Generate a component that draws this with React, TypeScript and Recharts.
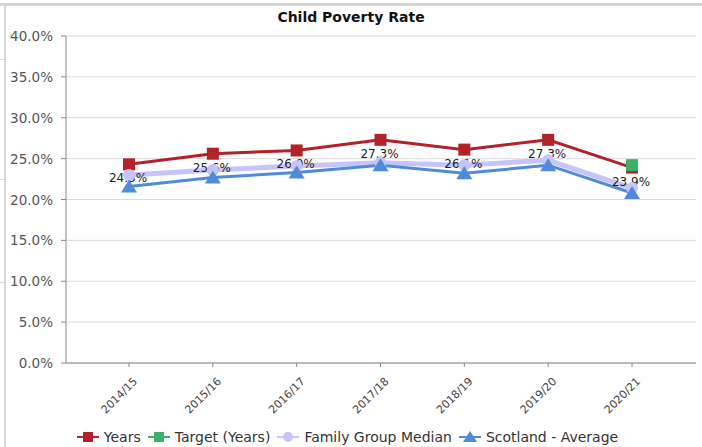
import React from 'react';
import { LineChart, Line, XAxis, YAxis, CartesianGrid } from 'recharts';

const categories = ['2014/15', '2015/16', '2016/17', '2017/18', '2018/19', '2019/20', '2020/21'];
const yearsValues = [24.3, 25.6, 26.0, 27.3, 26.1, 27.3, 23.9];
const targetValues: (number | null)[] = [null, null, null, null, null, null, 24.2];
const familyMedian = [23.0, 23.6, 24.1, 24.5, 24.2, 24.8, 21.4];
const scotlandAvg = [21.6, 22.7, 23.3, 24.2, 23.2, 24.2, 20.8];
const yTicks = [0, 5, 10, 15, 20, 25, 30, 35, 40];

const data = categories.map((c, i) => ({
  cat: c,
  years: yearsValues[i],
  target: targetValues[i],
  family: familyMedian[i],
  scotland: scotlandAvg[i],
}));

const FONT = '"DejaVu Sans", Verdana, sans-serif';
const RED = '#b3222a';
const GREEN = '#3cb06a';
const LAV = '#c5c5fb';
const BLUE = '#4f8bd9';

const YearsDot = (props: any) => {
  const { cx, cy, index, value } = props;
  if (cx == null || cy == null || value == null) return <g key={index} />;
  const v = Array.isArray(value) ? value[1] : value;
  return (
    <g key={index}>
      <rect x={cx - 6} y={cy - 6} width={12} height={12} fill={RED} />
      <text x={cx - 1} y={cy + 18} textAnchor="middle" fontSize={12} fill="#222" fontFamily={FONT}>
        {`${Number(v).toFixed(1)}%`}
      </text>
    </g>
  );
};
const TargetDot = (props: any) => {
  const { cx, cy, index, value } = props;
  if (cx == null || cy == null || value == null) return <g key={index} />;
  return <rect key={index} x={cx - 6} y={cy - 6} width={12} height={12} fill={GREEN} />;
};
const Circle = (props: any) => {
  const { cx, cy, index } = props;
  if (cx == null || cy == null) return <g key={index} />;
  return <circle key={index} cx={cx} cy={cy} r={6} fill={LAV} />;
};
const Tri = (props: any) => {
  const { cx, cy, index } = props;
  if (cx == null || cy == null) return <g key={index} />;
  return <polygon key={index} points={`${cx},${cy - 7} ${cx + 8},${cy + 6} ${cx - 8},${cy + 6}`} fill={BLUE} />;
};

const XTick = (props: any) => {
  const { x, y, payload } = props;
  return (
    <g transform={`translate(${x + 9},${y + 13})`}>
      <text x={0} y={0} textAnchor="end" transform="rotate(-45)" fontSize={11} fill="#444" fontFamily={FONT}>
        {payload.value}
      </text>
    </g>
  );
};

const YTick = (props: any) => {
  const { x, y, payload } = props;
  return (
    <text x={x - 6} y={y} dy={5} textAnchor="end" fontSize={13.5} fill="#555" fontFamily={FONT}>
      {`${Number(payload.value).toFixed(1)}%`}
    </text>
  );
};

const LegendIcon = ({ color, shape }: { color: string; shape: string }) => (
  <svg width={22} height={14} style={{ display: 'block' }}>
    <line x1={0} y1={7} x2={22} y2={7} stroke={color} strokeWidth={2} />
    {shape === 'square' && <rect x={6} y={2} width={10} height={10} fill={color} />}
    {shape === 'circle' && <circle cx={11} cy={7} r={5} fill={color} />}
    {shape === 'triangle' && <polygon points="11,1 18,12 4,12" fill={color} />}
  </svg>
);

const legendItems = [
  { label: 'Years', color: RED, shape: 'square' },
  { label: 'Target (Years)', color: GREEN, shape: 'square' },
  { label: 'Family Group Median', color: LAV, shape: 'circle' },
  { label: 'Scotland - Average', color: BLUE, shape: 'triangle' },
];

export default function App() {
  return (
    <div style={{ position: 'absolute', left: 0, top: 0, width: 702, height: 447, background: '#fff', overflow: 'hidden' }}>
      <div style={{ position: 'absolute', left: 0, top: 3, width: 702, height: 3, background: '#d6d6d6' }} />
      <div style={{ position: 'absolute', left: 4, top: 3, width: 2, height: 444, background: '#d6d6d6' }} />
      <div style={{ position: 'absolute', left: 0, top: 59, width: 5, height: 1, background: '#d6d6d6' }} />
      <div style={{ position: 'absolute', left: 0, top: 179, width: 5, height: 1, background: '#d6d6d6' }} />
      <div style={{ position: 'absolute', left: 0, top: 282, width: 5, height: 1, background: '#d6d6d6' }} />
      <div
        style={{
          position: 'absolute', left: 0, top: 9, width: 702, textAlign: 'center',
          fontFamily: FONT, fontWeight: 'bold', fontSize: 14, color: '#111',
        }}
      >
        Child Poverty Rate
      </div>
      <div style={{ position: 'absolute', left: 0, top: 0 }}>
        <LineChart width={702} height={447} data={data} margin={{ top: 36, right: 6, left: 0, bottom: 0 }}>
          <CartesianGrid vertical={false} stroke="#dcdcdc" />
          <XAxis
            dataKey="cat"
            height={84}
            padding={{ left: 63, right: 64 }}
            stroke="#888"
            tickSize={4}
            tick={<XTick />}
            interval={0}
          />
          <YAxis
            width={66}
            domain={[0, 40]}
            ticks={yTicks}
            stroke="#888"
            tickSize={5}
            tick={<YTick />}
          />
          <Line dataKey="years" stroke={RED} strokeWidth={3} dot={YearsDot} isAnimationActive={false} />
          <Line dataKey="target" stroke={GREEN} strokeWidth={3} dot={TargetDot} isAnimationActive={false} />
          <Line dataKey="family" stroke={LAV} strokeWidth={5} dot={Circle} isAnimationActive={false} />
          <Line dataKey="scotland" stroke={BLUE} strokeWidth={3} dot={Tri} isAnimationActive={false} />
        </LineChart>
      </div>
      <div
        style={{
          position: 'absolute', left: 0, top: 429, width: 702, display: 'flex', justifyContent: 'center',
          alignItems: 'center', fontFamily: FONT, fontSize: 14, color: '#333',
        }}
      >
        {legendItems.map((it) => (
          <div key={it.label} style={{ display: 'flex', alignItems: 'center', marginRight: 7 }}>
            <LegendIcon color={it.color} shape={it.shape} />
            <span style={{ marginLeft: 5 }}>{it.label}</span>
          </div>
        ))}
      </div>
    </div>
  );
}
